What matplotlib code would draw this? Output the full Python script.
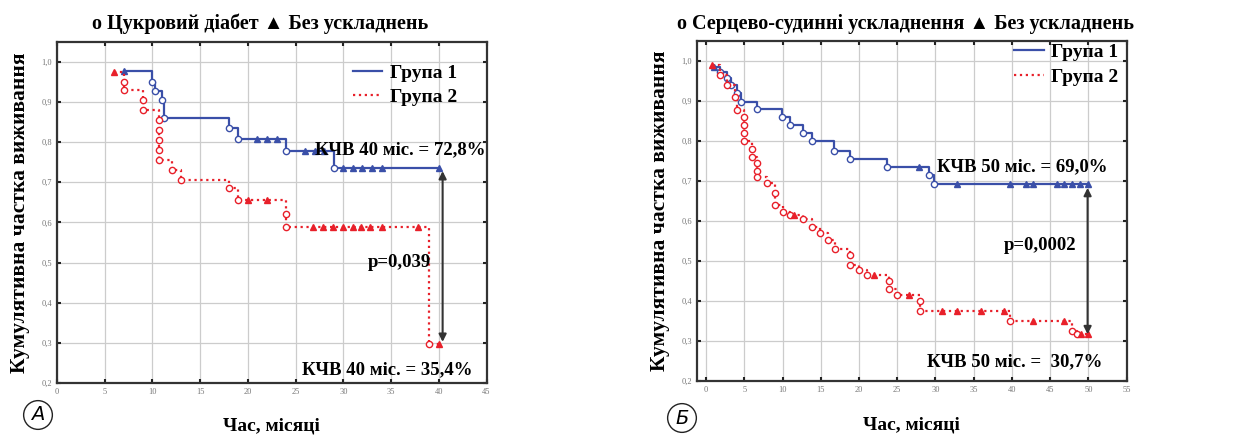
import numpy as np
import matplotlib
matplotlib.use("Agg")
import matplotlib.pyplot as plt
from matplotlib.lines import Line2D

plt.rcParams['font.family'] = ['Liberation Serif', 'DejaVu Serif']

# ---- panel A: diabetes vs no complications ----
a_g1_t = [7, 10, 10.3, 11, 11.2, 18, 19, 24, 29, 40]
a_g1_s = [0.978, 0.951, 0.928, 0.905, 0.86, 0.835, 0.808, 0.778, 0.735, 0.735]
a_g1_cens = [21, 22, 23, 26, 27, 28, 30, 31, 32, 33, 34]

a_g2_t = [6, 7, 7, 9, 9, 10.7, 10.7, 10.7, 10.7, 10.7, 12, 13, 18, 19, 24, 24, 39, 40]
a_g2_s = [0.976, 0.951, 0.93, 0.905, 0.88, 0.855, 0.83, 0.805, 0.78, 0.755, 0.73, 0.706,
          0.685, 0.656, 0.622, 0.589, 0.298, 0.298]
a_g2_cens = [20, 22, 26.8, 27.9, 28.9, 30, 31, 31.9, 32.8, 34, 37.8]

# ---- panel B: cardiovascular vs no complications ----
b_g1_t = [1, 1.8, 2.7, 3.2, 4, 4.5, 6.6, 9.9, 11, 12.7, 13.8, 16.7, 18.8, 23.6, 29.1, 29.8, 50]
b_g1_s = [0.985, 0.972, 0.958, 0.94, 0.92, 0.898, 0.88, 0.86, 0.84, 0.82, 0.80, 0.775,
          0.755, 0.735, 0.715, 0.693, 0.693]
b_g1_cens = [27.8, 32.8, 39.8, 41.8, 42.8, 45.9, 46.8, 47.9, 48.9]

b_g2_t = [0.8, 1.8, 2.7, 3.8, 4.0, 4.9, 4.9, 4.9, 4.9, 6, 6, 6.6, 6.6, 6.6, 7.9, 9, 9, 10.1,
          11, 12.7, 13.8, 14.9, 16, 16.9, 18.8, 18.8, 20, 21, 23.9, 23.9, 25, 28, 28, 39.8,
          47.9, 48.5, 50]
b_g2_s = [0.99, 0.965, 0.94, 0.91, 0.877, 0.86, 0.84, 0.82, 0.80, 0.78, 0.76, 0.745, 0.725,
          0.71, 0.695, 0.67, 0.64, 0.623, 0.615, 0.605, 0.585, 0.57, 0.552, 0.531, 0.515,
          0.49, 0.478, 0.465, 0.45, 0.43, 0.415, 0.40, 0.375, 0.35, 0.325, 0.318, 0.318]
b_g2_cens = [11.5, 22, 26.5, 30.8, 32.8, 35.9, 38.9, 42.8, 46.8, 49]

yticks = [0.2, 0.3, 0.4, 0.5, 0.6, 0.7, 0.8, 0.9, 1.0]
ytick_labels = ['0,2', '0,3', '0,4', '0,5', '0,6', '0,7', '0,8', '0,9', '1,0']

BLUE = '#3a4fa8'
RED = '#e8202a'


def step_value(t, s, x):
    i = np.searchsorted(t, x, side='right') - 1
    return np.array(s)[np.clip(i, 0, len(s) - 1)]


def km(ax, t, s, cens, color, ls):
    ax.step(t, s, where='post', color=color, ls=ls, lw=1.6)
    ax.plot(t[1:-1], s[1:-1], 'o', ms=4.5, mfc='white', mec=color, mew=1.0)
    ax.plot([t[0], t[-1]], [s[0], s[-1]], marker='^', ls='none', ms=4, color=color)
    ax.plot(cens, step_value(t, s, cens), '^', ms=4, color=color)


def setup(ax, xmin, xmax, xticks):
    ax.set_xlim(xmin, xmax)
    ax.set_ylim(0.2, 1.05)
    ax.set_xticks(xticks)
    ax.set_xticklabels([str(x) for x in xticks])
    ax.set_yticks(yticks)
    ax.set_yticklabels(ytick_labels)
    ax.tick_params(direction='in', length=3, width=1.5, labelsize=6, labelcolor='#777777',
                   top=True, right=True, color='#222222')
    ax.grid(True, color='#cccccc', lw=0.9)
    for sp in ax.spines.values():
        sp.set_linewidth(1.6)
        sp.set_color('#333333')
    ax.set_ylabel('Кумулятивна частка виживання', fontsize=15.5, fontweight='bold', labelpad=8)
    ax.set_xlabel('Час, місяці', fontsize=14, fontweight='bold', labelpad=16)


fig = plt.figure(figsize=(12.38, 4.37), dpi=100)
axA = fig.add_axes([0.046, 0.124, 0.347, 0.780])
axB = fig.add_axes([0.563, 0.128, 0.347, 0.778])

ann = dict(fontsize=13.5, fontweight='bold', ha='center', va='center')

# panel A
setup(axA, 0, 45, list(range(0, 46, 5)))
km(axA, a_g1_t, a_g1_s, a_g1_cens, BLUE, '-')
km(axA, a_g2_t, a_g2_s, a_g2_cens, RED, ':')
axA.set_title('о Цукровий діабет ▲ Без ускладнень', fontsize=14.5, fontweight='bold',
              pad=9, x=0.474)
axA.annotate('', xy=(40.4, 0.295), xytext=(40.4, 0.735),
             arrowprops=dict(arrowstyle='<|-|>', color='#333333', lw=1.5, mutation_scale=11))
axA.text(36, 0.78, 'КЧВ 40 міс. = 72,8%', **ann)
axA.text(35.9, 0.50, 'p=0,039', **ann)
axA.text(34.6, 0.232, 'КЧВ 40 міс. = 35,4%', **ann)

# panel B
setup(axB, -1.2, 55, list(range(0, 56, 5)))
km(axB, b_g1_t, b_g1_s, b_g1_cens, BLUE, '-')
km(axB, b_g2_t, b_g2_s, b_g2_cens, RED, ':')
axB.set_title('о Серцево-судинні ускладнення ▲ Без ускладнень', fontsize=14.5, fontweight='bold',
              pad=9, x=0.485)
axB.annotate('', xy=(49.9, 0.31), xytext=(49.9, 0.69),
             arrowprops=dict(arrowstyle='<|-|>', color='#333333', lw=1.5, mutation_scale=11))
axB.text(41.4, 0.735, 'КЧВ 50 міс. = 69,0%', **ann)
axB.text(43.7, 0.54, 'p=0,0002', **ann)
axB.text(40.4, 0.248, 'КЧВ 50 міс. =  30,7%', **ann)

handles = [Line2D([], [], color=BLUE, lw=1.6, ls='-'), Line2D([], [], color=RED, lw=1.6, ls=':')]
for ax, anchor, sp in [(axA, (0.68, 0.945), 0.3), (axB, (0.73, 1.006), 0.4)]:
    ax.legend(handles, ['Група 1', 'Група 2'], loc='upper left', bbox_to_anchor=anchor,
              frameon=False, handlelength=1.5, labelspacing=sp, handletextpad=0.4,
              borderaxespad=0, borderpad=0.2,
              prop=dict(family='Liberation Serif', weight='bold', size=14))

# circled panel letters
for x, y, letter in [(38 / 1238, 1 - 415 / 437, 'А'), (682 / 1238, 1 - 418 / 437, 'Б')]:
    fig.text(x, y, letter, fontsize=14, style='italic', family='DejaVu Sans', ha='center',
             va='center', bbox=dict(boxstyle='circle,pad=0.25', fc='white', ec='#222222', lw=1.0))

fig.savefig('out.png', dpi=100)
